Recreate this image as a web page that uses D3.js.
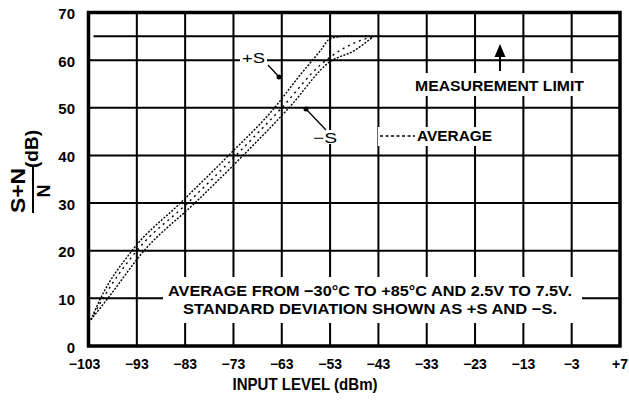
<!DOCTYPE html>
<html><head><meta charset="utf-8">
<script src="https://cdn.jsdelivr.net/npm/d3@7"></script>
<style>
body{margin:0;background:#fff;}
text{font-family:"Liberation Sans Narrow","Liberation Sans",Arial,sans-serif;fill:#000;}
</style></head>
<body><svg id="c" width="629" height="408"></svg>
<script>
// ---- data ----
const xTicks = [-103,-93,-83,-73,-63,-53,-43,-33,-23,-13,-3,7];
const xTickLabels = ["−103","−93","−83","−73","−63","−53","−43","−33","−23","−13","−3","+7"];
const yTicks = [0,10,20,30,40,50,60,70];
const measurementLimit = 65;
const plusSX = [-102.5,-100.5,-94,-84,-74,-64.5,-59.5,-55,-53,-50,-44];
const plusSY = [5.5,10,20,30,40,50,56.5,62,64.5,65,65];
const minusSX = [-102.5,-99,-91.5,-81,-71,-61.5,-53,-48,-44];
const minusSY = [5.5,10,20,30,40,50,59.7,62,65];
const avgX = [-102.5,-100,-93,-82.5,-72.5,-63,-55,-51,-47,-44];
const avgY = [5.5,10,20,30,40,50,59,62,64,65];
const note1 = "AVERAGE FROM −30°C TO +85°C AND 2.5V TO 7.5V.";
const note2 = "STANDARD DEVIATION SHOWN AS +S AND −S.";

const svg = d3.select("#c");
const L=88.5, R=620, T=12.5, B=346;
const x = d3.scaleLinear().domain([-103,7]).range([L,R]);
const y = d3.scaleLinear().domain([0,70]).range([B,T]);

// grid
const g = svg.append("g");
g.selectAll(".hg").data(yTicks.filter(d=>d>0&&d<70)).join("line")
  .attr("x1",L).attr("x2",R).attr("y1",d=>y(d)).attr("y2",d=>y(d))
  .attr("stroke","#000").attr("stroke-width",2);
g.append("line").attr("x1",L+5).attr("x2",R).attr("y1",y(measurementLimit)).attr("y2",y(measurementLimit))
  .attr("stroke","#000").attr("stroke-width",2);
g.selectAll(".vg").data(xTicks.slice(1,-1)).join("line")
  .attr("x1",d=>x(d)).attr("x2",d=>x(d)).attr("y1",T).attr("y2",B)
  .attr("stroke","#000").attr("stroke-width",2);

// white backgrounds for labels
const bg = [[163,277,419,46],[413,73,173,23],[378,127,116,19],[240,51,27,13],[311,130,28,14]];
svg.selectAll(".bg").data(bg).join("rect")
  .attr("x",d=>d[0]).attr("y",d=>d[1]).attr("width",d=>d[2]).attr("height",d=>d[3]).attr("fill","#fff");

// curves
const line = d3.line().x(d=>x(d[0])).y(d=>y(d[1])).curve(d3.curveMonotoneX);
svg.append("path").attr("d",line(d3.zip(plusSX,plusSY))).attr("fill","none")
  .attr("stroke","#000").attr("stroke-width",1.4).attr("stroke-dasharray","2,1.5");
svg.append("path").attr("d",line(d3.zip(minusSX,minusSY))).attr("fill","none")
  .attr("stroke","#000").attr("stroke-width",1.4).attr("stroke-dasharray","2,1.5");
svg.append("path").attr("d",line(d3.zip(avgX,avgY))).attr("fill","none")
  .attr("stroke","#000").attr("stroke-width",1.4).attr("stroke-dasharray","2,4");

// frame
svg.append("rect").attr("x",L).attr("y",T).attr("width",R-L).attr("height",B-T)
  .attr("fill","none").attr("stroke","#000").attr("stroke-width",3.5);

// tick labels
svg.selectAll(".yl").data(yTicks).join("text")
  .attr("x",75).attr("y",d=>y(d)+1).attr("text-anchor","end").attr("dominant-baseline","central")
  .attr("font-size",15).attr("font-weight","bold").text(d=>d);
svg.selectAll(".xl").data(xTicks).join("text")
  .attr("x",(d,i)=>x(d)-(i==0?4:0)).attr("y",364).attr("text-anchor","middle").attr("dominant-baseline","central")
  .attr("font-size",14).attr("font-weight","bold").text((d,i)=>xTickLabels[i]);

// x title
svg.append("text").attr("x",305).attr("y",384).attr("text-anchor","middle").attr("dominant-baseline","central")
  .attr("font-size",17).attr("font-weight","bold").attr("textLength",145).attr("lengthAdjust","spacingAndGlyphs")
  .text("INPUT LEVEL (dBm)");

// y title (fraction)
function rtext(cx,cy,s,size,len){
  const t=svg.append("text").attr("transform",`translate(${cx},${cy}) rotate(-90)`)
   .attr("text-anchor","middle").attr("dominant-baseline","central")
   .attr("font-size",size).attr("font-weight","bold").text(s);
  if(len) t.attr("textLength",len).attr("lengthAdjust","spacingAndGlyphs");
}
rtext(17,190.5,"S+N",21,45);
rtext(43,191,"N",19,13);
rtext(32,149,"(dB)",18,38);
svg.append("line").attr("x1",33).attr("x2",33).attr("y1",166).attr("y2",213).attr("stroke","#000").attr("stroke-width",2);

// annotations
function txt(cx,cy,s,size,len,w){
  svg.append("text").attr("x",cx).attr("y",cy).attr("text-anchor","middle").attr("dominant-baseline","central")
   .attr("font-size",size).attr("font-weight",w||"normal").attr("textLength",len).attr("lengthAdjust","spacingAndGlyphs").text(s);
}
txt(370,290,note1,15,404,"bold");
txt(370,308.5,note2,15,374,"bold");
txt(499.5,86,"MEASUREMENT LIMIT",14,169,"bold");
txt(454.5,136,"AVERAGE",14,75,"bold");
txt(253.5,57.5,"+S",15,23);
txt(325,137,"−S",15,24);

// legend dash
svg.append("line").attr("x1",380).attr("x2",415).attr("y1",136).attr("y2",136)
  .attr("stroke","#000").attr("stroke-width",1.4).attr("stroke-dasharray","3,2.5");

// leaders
svg.append("line").attr("x1",268).attr("y1",65).attr("x2",280).attr("y2",78).attr("stroke","#000").attr("stroke-width",1.3);
svg.append("circle").attr("cx",279).attr("cy",77).attr("r",2.5);
svg.append("line").attr("x1",305).attr("y1",108).attr("x2",326).attr("y2",130).attr("stroke","#000").attr("stroke-width",1.3);
svg.append("circle").attr("cx",306).attr("cy",109).attr("r",2.5);

// arrow to measurement limit
svg.append("line").attr("x1",500).attr("x2",500).attr("y1",71).attr("y2",50).attr("stroke","#000").attr("stroke-width",2);
svg.append("path").attr("d","M500,44 L494.5,57 L505.5,57 Z").attr("fill","#000");
</script></body></html>
